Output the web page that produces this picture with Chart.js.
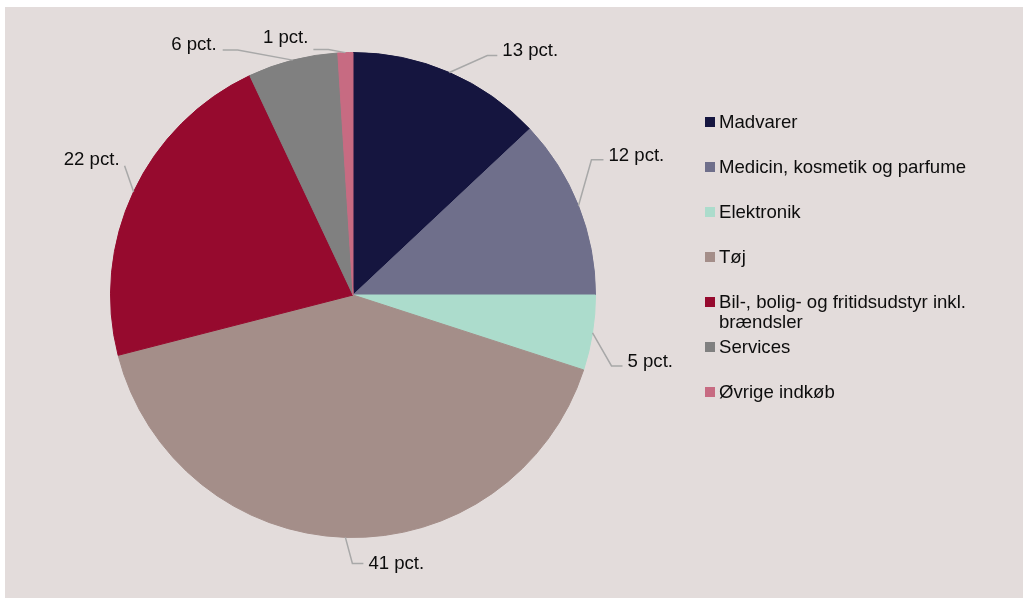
<!DOCTYPE html>
<html>
<head>
<meta charset="utf-8">
<script src="https://cdn.jsdelivr.net/npm/chart.js@4"></script>
<style>
  html, body { margin: 0; padding: 0; background: #ffffff; }
  canvas { display: block; }
</style>
</head>
<body>
<canvas id="chart" width="1023" height="600"></canvas>
<script>
// Spending categories and their share of purchases (percent)
const categories = [
  'Madvarer',
  'Medicin, kosmetik og parfume',
  'Elektronik',
  'Tøj',
  'Bil-, bolig- og fritidsudstyr inkl. brændsler',
  'Services',
  'Øvrige indkøb'
];
const shares = [13, 12, 5, 41, 22, 6, 1];
const valueSuffix = ' pct.';

const sliceColors = ['#15153f', '#6f6f8b', '#acdccc', '#a48e89', '#960a2e', '#808080', '#c76b82'];
const panelColor = '#e3dcdb';
const textColor = '#0d0d0d';
const leaderColor = '#a8a8a8';
const fontSpec = '18.6px "Liberation Sans", Arial, sans-serif';

// Leader geometry per slice: knee offset from the rim point, horizontal tail,
// and text offset from the end of the tail.
const leaderLayout = [
  { kx: 38,  ky: -17, tail: 10,  tx: 5,  ty: 1,  align: 'left'  },
  { kx: 13,  ky: -46, tail: 12,  tx: 5,  ty: 1,  align: 'left'  },
  { kx: 19,  ky: 33,  tail: 11,  tx: 5,  ty: 1,  align: 'left'  },
  { kx: 7,   ky: 26,  tail: 11,  tx: 5,  ty: 6,  align: 'left'  },
  { kx: -9,  ky: -26, tail: 0,   tx: -5, ty: -1, align: 'right' },
  { kx: -55, ky: -10, tail: -15, tx: -6, ty: 0,  align: 'right' },
  { kx: -17, ky: -3,  tail: -15, tx: -5, ty: -7, align: 'right' }
];

// Panel behind the chart
const panelPlugin = {
  id: 'panel',
  beforeDraw(chart) {
    const ctx = chart.ctx;
    ctx.save();
    ctx.fillStyle = panelColor;
    ctx.fillRect(5, 7, chart.width - 5, 591);
    ctx.restore();
  }
};

// Value labels joined to each slice by a leader line
const leaderPlugin = {
  id: 'leaders',
  afterDatasetsDraw(chart) {
    const ctx = chart.ctx;
    const meta = chart.getDatasetMeta(0);
    ctx.save();
    ctx.font = fontSpec;
    ctx.textBaseline = 'alphabetic';
    meta.data.forEach((arc, i) => {
      const p = arc.getProps(['x', 'y', 'startAngle', 'endAngle', 'outerRadius'], true);
      const mid = (p.startAngle + p.endAngle) / 2;
      const ax = p.x + Math.cos(mid) * p.outerRadius;
      const ay = p.y + Math.sin(mid) * p.outerRadius;
      const L = leaderLayout[i];
      const kx = ax + L.kx, ky = ay + L.ky;
      const ex = kx + L.tail, ey = ky;
      ctx.strokeStyle = leaderColor;
      ctx.lineWidth = 1.5;
      ctx.beginPath();
      ctx.moveTo(ax, ay);
      ctx.lineTo(kx, ky);
      ctx.lineTo(ex, ey);
      ctx.stroke();
      ctx.fillStyle = textColor;
      ctx.textAlign = L.align;
      ctx.fillText(shares[i] + valueSuffix, ex + L.tx, ey + L.ty);
    });
    ctx.restore();
  }
};

// Legend to the right of the pie, with wrapping for long names
const legendPlugin = {
  id: 'sideLegend',
  afterDraw(chart) {
    const ctx = chart.ctx;
    const left = 705, top = 122, step = 45, box = 10, maxWidth = 262, lineH = 20;
    ctx.save();
    ctx.font = fontSpec;
    ctx.textAlign = 'left';
    ctx.textBaseline = 'alphabetic';
    categories.forEach((name, i) => {
      const cy = top + i * step;
      ctx.fillStyle = sliceColors[i];
      ctx.fillRect(left, cy - box / 2, box, box);
      const words = name.split(' ');
      const lines = [];
      let line = '';
      words.forEach(w => {
        const test = line ? line + ' ' + w : w;
        if (line && ctx.measureText(test).width > maxWidth) {
          lines.push(line);
          line = w;
        } else {
          line = test;
        }
      });
      lines.push(line);
      ctx.fillStyle = textColor;
      lines.forEach((t, k) => ctx.fillText(t, left + 14, cy + 6 + k * lineH));
    });
    ctx.restore();
  }
};

new Chart(document.getElementById('chart'), {
  type: 'pie',
  data: {
    labels: categories,
    datasets: [{
      data: shares,
      backgroundColor: sliceColors,
      borderColor: sliceColors,
      borderWidth: 1
    }]
  },
  options: {
    responsive: false,
    animation: false,
    devicePixelRatio: 1,
    layout: { padding: { left: 110, top: 52, right: 427, bottom: 62 } },
    plugins: {
      legend: { display: false },
      tooltip: { enabled: false }
    }
  },
  plugins: [panelPlugin, leaderPlugin, legendPlugin]
});
</script>
</body>
</html>
